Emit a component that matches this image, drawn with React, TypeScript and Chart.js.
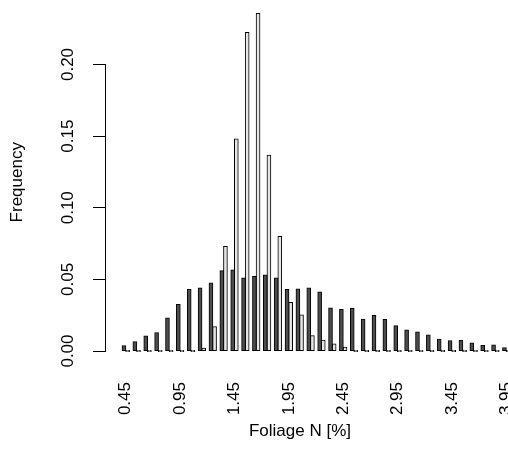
import React, { useEffect, useRef } from "react";
import { Chart, registerables } from "chart.js";

Chart.register(...registerables);

// Category labels (class midpoints, Foliage N [%])
const CATEGORIES = [
  "0.45", "0.55", "0.65", "0.75", "0.85", "0.95", "1.05", "1.15", "1.25", "1.35",
  "1.45", "1.55", "1.65", "1.75", "1.85", "1.95", "2.05", "2.15", "2.25", "2.35",
  "2.45", "2.55", "2.65", "2.75", "2.85", "2.95", "3.05", "3.15", "3.25", "3.35",
  "3.45", "3.55", "3.65", "3.75", "3.85", "3.95",
];

// First (dark) series – relative frequencies
const SERIES_DARK = [
  0.0037, 0.0065, 0.0104, 0.0127, 0.023, 0.0324, 0.043, 0.044, 0.0475, 0.056,
  0.0565, 0.051, 0.052, 0.053, 0.051, 0.043, 0.0433, 0.044, 0.0412, 0.030,
  0.029, 0.0296, 0.0222, 0.0248, 0.022, 0.0176, 0.0147, 0.0132, 0.0111, 0.0083,
  0.0072, 0.0074, 0.0056, 0.0039, 0.0042, 0.0023,
];

// Second (light) series – relative frequencies
const SERIES_LIGHT = [
  0, 0, 0, 0, 0, 0, 0, 0.0019, 0.0169, 0.073,
  0.148, 0.2224, 0.2356, 0.1366, 0.080, 0.0338, 0.0252, 0.0106, 0.0076, 0.0049,
  0.0026, 0, 0, 0, 0, 0, 0, 0, 0, 0,
  0, 0, 0, 0, 0, 0,
];

const Y_TICKS = [0, 0.05, 0.1, 0.15, 0.2];
const X_LABEL_EVERY = 5;
const Y_AXIS_MIN = -0.0094;
const Y_AXIS_MAX = 0.245;
const X_TITLE = "Foliage N [%]";
const Y_TITLE = "Frequency";

export default function App() {
  const ref = useRef<HTMLCanvasElement | null>(null);

  useEffect(() => {
    const canvas = ref.current;
    if (!canvas) return;

    const W = 508;
    const H = 469;
    const LEFT = 106;
    const ZERO_PX = 351;
    const PX_PER_UNIT = 1435;
    const FIRST_CENTER = 125.8;
    const GROUP_STEP = 10.87;
    const RIGHT = 494;

    const top = ZERO_PX - Y_AXIS_MAX * PX_PER_UNIT;
    const bottom = ZERO_PX - Y_AXIS_MIN * PX_PER_UNIT;
    const xMin = -(FIRST_CENTER - LEFT) / GROUP_STEP;
    const xMax = xMin + (RIGHT - LEFT) / GROUP_STEP;

    const font = { family: "'Liberation Sans', Arial, Helvetica, sans-serif", size: 17 };

    const alignPx = (p: number) => Math.round(p - 0.5) + 0.5;

    const axisLinePlugin = {
      id: "rAxisLine",
      afterDraw(chart: any) {
        const ys = chart.scales.y;
        const ctx = chart.ctx;
        const x = chart.chartArea.left - 0.5;
        const y0 = alignPx(ys.getPixelForValue(Y_TICKS[0]));
        const y1 = alignPx(ys.getPixelForValue(Y_TICKS[Y_TICKS.length - 1]));
        ctx.save();
        ctx.strokeStyle = "#000";
        ctx.lineWidth = 1;
        ctx.beginPath();
        ctx.moveTo(x, y0);
        ctx.lineTo(x, y1);
        ctx.stroke();
        ctx.restore();
      },
    };

    const barCommon = {
      borderColor: "#000000",
      borderWidth: 1,
      borderSkipped: false as const,
      inflateAmount: 0.5,
      minBarLength: 1,
      categoryPercentage: 2 / 3,
      barPercentage: 1,
      clip: false as const,
    };

    const chart = new Chart(canvas, {
      type: "bar",
      data: {
        datasets: [
          {
            ...barCommon,
            label: "A",
            data: SERIES_DARK.map((v, i) => ({ x: i, y: v })),
            backgroundColor: "#4D4D4D",
          },
          {
            ...barCommon,
            label: "B",
            data: SERIES_LIGHT.map((v, i) => ({ x: i, y: v })),
            backgroundColor: "#E6E6E6",
          },
        ],
      },
      options: {
        animation: false,
        responsive: false,
        devicePixelRatio: 1,
        layout: { padding: { left: 0, top: top, right: W - RIGHT, bottom: 0 } },
        plugins: {
          legend: { display: false },
          tooltip: { enabled: false },
        },
        scales: {
          x: {
            type: "linear",
            min: xMin,
            max: xMax,
            bounds: "data",
            offset: false,
            grid: { display: false, drawTicks: false },
            border: { display: false },
            afterBuildTicks: (s: any) => {
              s.ticks = CATEGORIES.map((_, i) => i)
                .filter((i) => i % X_LABEL_EVERY === 0)
                .map((v) => ({ value: v }));
            },
            afterFit: (s: any) => {
              s.height = H - bottom;
              s.paddingLeft = 0;
              s.paddingRight = 0;
            },
            ticks: {
              autoSkip: false,
              minRotation: 90,
              maxRotation: 90,
              padding: 382 - bottom,
              color: "#000",
              font,
              callback: (v: any) => CATEGORIES[Math.round(Number(v))] ?? "",
            },
            title: {
              display: true,
              text: X_TITLE,
              color: "#000",
              font,
              padding: { top: 0, bottom: 27.8 },
            },
          },
          y: {
            type: "linear",
            min: Y_AXIS_MIN,
            max: Y_AXIS_MAX,
            bounds: "data",
            afterBuildTicks: (s: any) => {
              s.ticks = Y_TICKS.map((v) => ({ value: v }));
            },
            afterFit: (s: any) => {
              s.width = LEFT;
              s.paddingTop = 0;
              s.paddingBottom = 0;
            },
            grid: {
              display: true,
              drawOnChartArea: false,
              drawTicks: true,
              tickLength: 13,
              color: "#000",
              lineWidth: 1,
            },
            border: { display: false },
            ticks: {
              autoSkip: false,
              minRotation: 90,
              maxRotation: 90,
              crossAlign: "center",
              padding: 8.45,
              color: "#000",
              font,
              callback: (v: any) => Number(v).toFixed(2),
            },
            title: {
              display: true,
              text: Y_TITLE,
              color: "#000",
              font,
              padding: { top: 6.8, bottom: 0 },
            },
          },
        },
      } as any,
      plugins: [axisLinePlugin],
    });

    return () => chart.destroy();
  }, []);

  return (
    <div
      style={{
        position: "fixed",
        left: 0,
        top: 0,
        width: 508,
        height: 469,
        overflow: "hidden",
        background: "#fff",
      }}
    >
      <canvas ref={ref} width={508} height={469} style={{ width: 508, height: 469, display: "block" }} />
    </div>
  );
}
